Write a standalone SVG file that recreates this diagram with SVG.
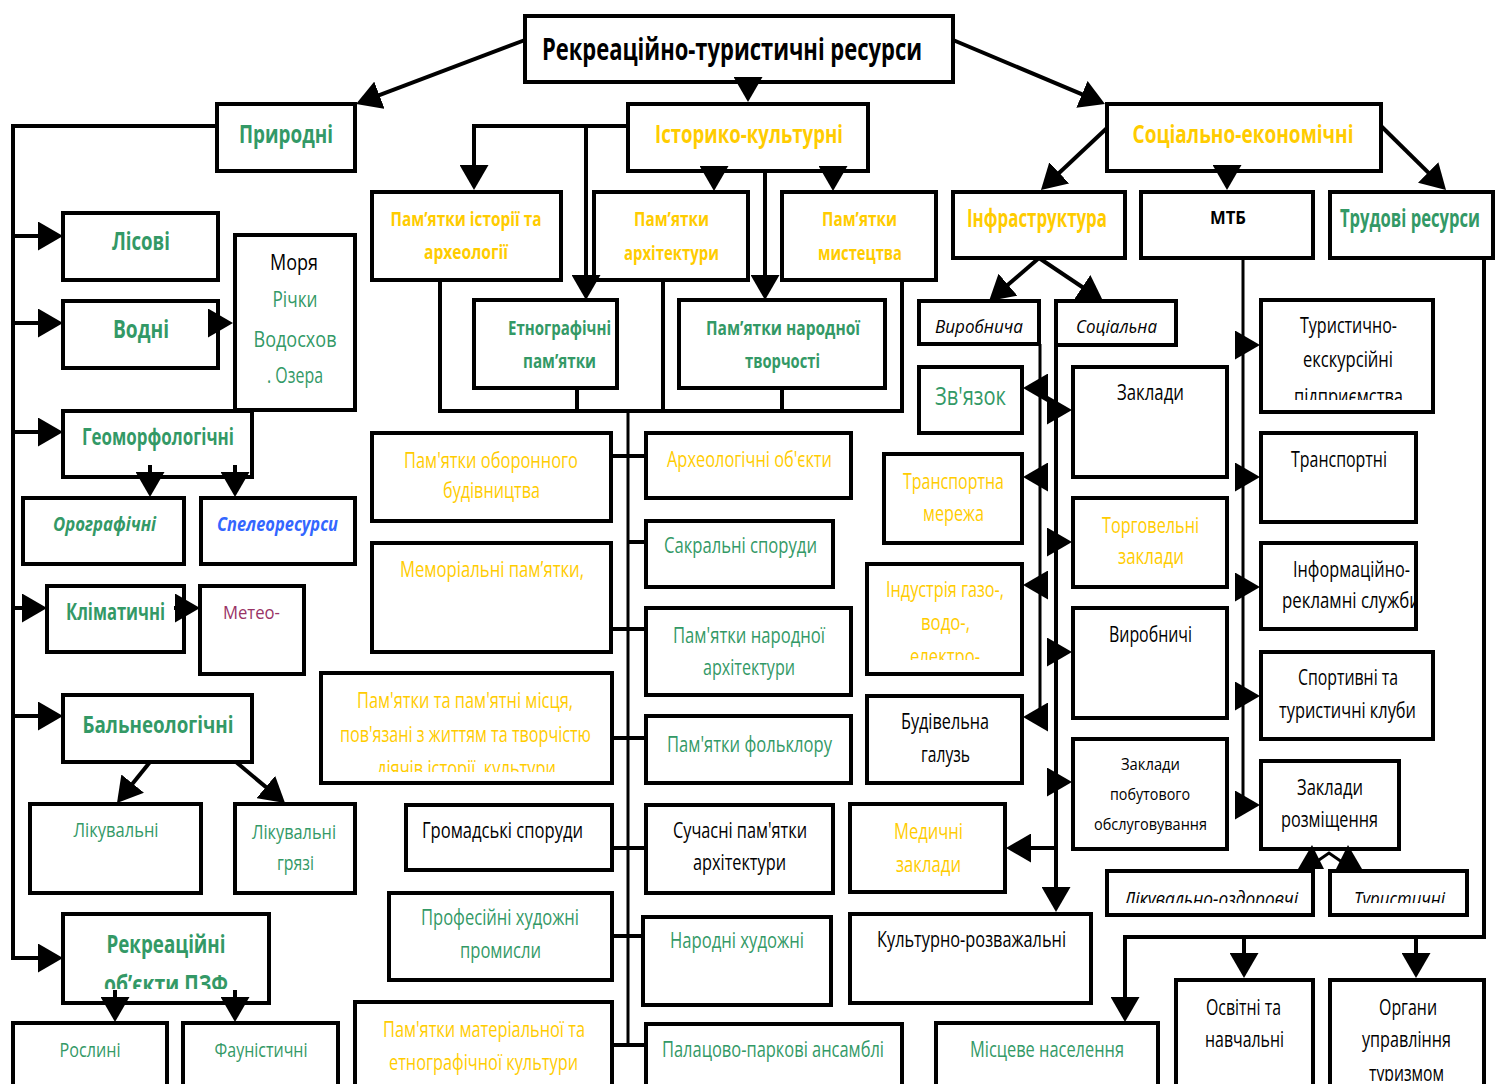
<svg xmlns="http://www.w3.org/2000/svg" width="1495" height="1084" viewBox="0 0 1495 1084">
<style>
.b{fill:#fff;stroke:#000;stroke-width:4}
text{font-family:"Open Sans","Liberation Sans",sans-serif;text-anchor:middle;font-size:21px}
.bd{font-weight:bold}
.it{font-style:italic}
.g{fill:#339966}.y{fill:#FFCC00}.k{fill:#000}.bl{fill:#3366FF}.p{fill:#993366}
.f30{font-size:30px}.f25{font-size:25px}.f24{font-size:24px}.f20{font-size:20px}.f19{font-size:19px}.f17{font-size:17px}
.c{fill:none;stroke:#000;stroke-width:4;marker-end:url(#ah)}
.l{fill:none;stroke:#000;stroke-width:4}
.l3{fill:none;stroke:#000;stroke-width:3}
</style>
<defs>
<marker id="ah" viewBox="0 0 25 29" markerWidth="25" markerHeight="29" refX="17" refY="14.5" orient="auto" markerUnits="userSpaceOnUse"><path d="M0,0 L25,14.5 L0,29 z" fill="#000"/></marker>
<clipPath id="cPZF"><rect x="60" y="900" width="220" height="89"/></clipPath>
<clipPath id="cDiy"><rect x="320" y="660" width="300" height="112"/></clipPath>
<clipPath id="cEl"><rect x="860" y="560" width="170" height="100"/></clipPath>
<clipPath id="cPid"><rect x="1255" y="290" width="190" height="110"/></clipPath>
<clipPath id="cRek"><rect x="1255" y="540" width="160" height="90"/></clipPath>
<clipPath id="cLik"><rect x="1100" y="860" width="380" height="43"/></clipPath>
<clipPath id="cTur"><rect x="1320" y="975" width="175" height="106"/></clipPath>
</defs>
<rect width="1495" height="1084" fill="#fff"/>

<g id="n-title"><rect class="b" x="525" y="16" width="428" height="66"/><text class="bd k f30" x="732" y="60" textLength="380" lengthAdjust="spacingAndGlyphs">Рекреаційно-туристичні ресурси</text></g>
<g id="n-pryrodni"><rect class="b" x="217" y="104" width="138" height="67"/><text class="bd g f25" x="286" y="143" textLength="94" lengthAdjust="spacingAndGlyphs">Природні</text></g>
<g id="n-istoryko"><rect class="b" x="628" y="104" width="240" height="67"/><text class="bd y f25" x="749" y="143" textLength="188" lengthAdjust="spacingAndGlyphs">Історико-культурні</text></g>
<g id="n-sotsekon"><rect class="b" x="1107" y="104" width="274" height="67"/><text class="bd y f25" x="1243" y="143" textLength="221" lengthAdjust="spacingAndGlyphs">Соціально-економічні</text></g>

<g id="n-lisovi"><rect class="b" x="63" y="213" width="155" height="67"/><text class="bd g f25" x="141" y="250" textLength="58" lengthAdjust="spacingAndGlyphs">Лісові</text></g>
<g id="n-vodni"><rect class="b" x="63" y="301" width="155" height="67"/><text class="bd g f25" x="141" y="338" textLength="56" lengthAdjust="spacingAndGlyphs">Водні</text></g>
<g id="n-morya"><rect class="b" x="235" y="235" width="120" height="175"/>
<text class="k" x="294" y="270" textLength="48" lengthAdjust="spacingAndGlyphs">Моря</text>
<text class="g" x="295" y="307" textLength="45" lengthAdjust="spacingAndGlyphs">Річки</text>
<text class="g" x="295" y="347" textLength="83" lengthAdjust="spacingAndGlyphs">Водосхов</text>
<text class="g" x="295" y="383" textLength="56" lengthAdjust="spacingAndGlyphs">. Озера</text></g>
<g id="n-geomorf"><rect class="b" x="63" y="411" width="189" height="66"/><text class="bd g f24" x="158" y="445" textLength="152" lengthAdjust="spacingAndGlyphs">Геоморфологічні</text></g>
<g id="n-orograf"><rect class="b" x="23" y="498" width="161" height="66"/><text class="bd it g f20" x="104.5" y="531" textLength="103" lengthAdjust="spacingAndGlyphs">Орографічні</text></g>
<g id="n-speleo"><rect class="b" x="201" y="498" width="154" height="66"/><text class="bd it bl f20" x="277.5" y="531" textLength="121" lengthAdjust="spacingAndGlyphs">Спелеоресурси</text></g>
<g id="n-klimat"><rect class="b" x="47" y="586" width="137" height="66"/><text class="bd g f24" x="115.5" y="620" textLength="99" lengthAdjust="spacingAndGlyphs">Кліматичні</text></g>
<g id="n-meteo"><rect class="b" x="200" y="586" width="104" height="88"/><text class="p f19" x="251.5" y="619" textLength="57" lengthAdjust="spacingAndGlyphs">Метео-</text></g>
<g id="n-balneo"><rect class="b" x="63" y="695" width="189" height="67"/><text class="bd g f24" x="158" y="733" textLength="151" lengthAdjust="spacingAndGlyphs">Бальнеологічні</text></g>
<g id="n-likuv"><rect class="b" x="30" y="804" width="171" height="89"/><text class="g f20" x="116" y="837" textLength="85" lengthAdjust="spacingAndGlyphs">Лікувальні</text></g>
<g id="n-gryazi"><rect class="b" x="235" y="804" width="120" height="89"/><text class="g f20" x="294" y="839" textLength="84" lengthAdjust="spacingAndGlyphs">Лікувальні</text><text class="g f20" x="295.5" y="870" textLength="37" lengthAdjust="spacingAndGlyphs">грязі</text></g>
<g id="n-pzf"><rect class="b" x="63" y="914" width="206" height="89"/><text class="bd g f25" x="166" y="953" textLength="119" lengthAdjust="spacingAndGlyphs">Рекреаційні</text><text class="bd g f25" x="166" y="993" textLength="124" lengthAdjust="spacingAndGlyphs" clip-path="url(#cPZF)">об’єкти  ПЗФ</text></g>
<g id="n-roslyni"><rect class="b" x="13" y="1023" width="154" height="70"/><text class="g f20" x="90" y="1057" textLength="61" lengthAdjust="spacingAndGlyphs">Рослині</text></g>
<g id="n-faun"><rect class="b" x="183" y="1023" width="155" height="70"/><text class="g f20" x="261" y="1057" textLength="93" lengthAdjust="spacingAndGlyphs">Фауністичні</text></g>

<g id="n-pist"><rect class="b" x="372" y="192" width="189" height="88"/><text class="bd y f20" x="466" y="226" textLength="151" lengthAdjust="spacingAndGlyphs">Пам’ятки історії та</text><text class="bd y f20" x="466" y="259" textLength="84" lengthAdjust="spacingAndGlyphs">археології</text></g>
<g id="n-parch"><rect class="b" x="594" y="192" width="154" height="88"/><text class="bd y f20" x="671.5" y="226" textLength="75" lengthAdjust="spacingAndGlyphs">Пам’ятки</text><text class="bd y f20" x="671.5" y="260" textLength="95" lengthAdjust="spacingAndGlyphs">архітектури</text></g>
<g id="n-pmyst"><rect class="b" x="782" y="192" width="154" height="88"/><text class="bd y f20" x="859.5" y="226" textLength="75" lengthAdjust="spacingAndGlyphs">Пам’ятки</text><text class="bd y f20" x="860" y="260" textLength="84" lengthAdjust="spacingAndGlyphs">мистецтва</text></g>
<g id="n-etno"><rect class="b" x="474" y="300" width="143" height="88"/><text class="bd g f20" x="559.5" y="335" textLength="103" lengthAdjust="spacingAndGlyphs">Етнографічні</text><text class="bd g f20" x="559.5" y="368" textLength="73" lengthAdjust="spacingAndGlyphs">пам’ятки</text></g>
<g id="n-pnt"><rect class="b" x="679" y="300" width="206" height="88"/><text class="bd g f20" x="783" y="335" textLength="154" lengthAdjust="spacingAndGlyphs">Пам’ятки народної</text><text class="bd g f20" x="782.5" y="368" textLength="75" lengthAdjust="spacingAndGlyphs">творчості</text></g>
<g id="n-obor"><rect class="b" x="372" y="433" width="239" height="88"/><text class="y" x="491" y="468" textLength="174" lengthAdjust="spacingAndGlyphs">Пам'ятки оборонного</text><text class="y" x="491.5" y="498" textLength="97" lengthAdjust="spacingAndGlyphs">будівництва</text></g>
<g id="n-arkheol"><rect class="b" x="646" y="433" width="205" height="65"/><text class="y" x="749.5" y="467" textLength="165" lengthAdjust="spacingAndGlyphs">Археологічні об'єкти</text></g>
<g id="n-sakr"><rect class="b" x="646" y="521" width="187" height="66"/><text class="g" x="740.5" y="553" textLength="153" lengthAdjust="spacingAndGlyphs">Сакральні споруди</text></g>
<g id="n-memor"><rect class="b" x="372" y="543" width="239" height="109"/><text class="y" x="492" y="577" textLength="184" lengthAdjust="spacingAndGlyphs">Меморіальні пам’ятки,</text></g>
<g id="n-narch"><rect class="b" x="646" y="608" width="205" height="87"/><text class="g" x="749" y="643" textLength="152" lengthAdjust="spacingAndGlyphs">Пам'ятки народної</text><text class="g" x="749" y="675" textLength="92" lengthAdjust="spacingAndGlyphs">архітектури</text></g>
<g id="n-pmist"><rect class="b" x="321" y="673" width="291" height="110"/><text class="y" x="465" y="708" textLength="216" lengthAdjust="spacingAndGlyphs">Пам'ятки та пам'ятні місця,</text><text class="y" x="465.5" y="742" textLength="251" lengthAdjust="spacingAndGlyphs">пов'язані з життям та творчістю</text><text class="y" x="466.5" y="776" textLength="179" lengthAdjust="spacingAndGlyphs" clip-path="url(#cDiy)">діячів історії, культури</text></g>
<g id="n-folk"><rect class="b" x="646" y="716" width="205" height="67"/><text class="g" x="749.5" y="752" textLength="165" lengthAdjust="spacingAndGlyphs">Пам'ятки фольклору</text></g>
<g id="n-hrom"><rect class="b" x="406" y="805" width="206" height="65"/><text class="k" x="502.5" y="838" textLength="161" lengthAdjust="spacingAndGlyphs">Громадські споруди</text></g>
<g id="n-such"><rect class="b" x="646" y="805" width="187" height="88"/><text class="k" x="740" y="838" textLength="134" lengthAdjust="spacingAndGlyphs">Сучасні пам'ятки</text><text class="k" x="739.5" y="870" textLength="93" lengthAdjust="spacingAndGlyphs">архітектури</text></g>
<g id="n-prof"><rect class="b" x="389" y="893" width="223" height="87"/><text class="g" x="500" y="925" textLength="158" lengthAdjust="spacingAndGlyphs">Професійні художні</text><text class="g" x="500.5" y="958" textLength="81" lengthAdjust="spacingAndGlyphs">промисли</text></g>
<g id="n-narhud"><rect class="b" x="643" y="917" width="188" height="88"/><text class="g" x="737" y="948" textLength="134" lengthAdjust="spacingAndGlyphs">Народні художні</text></g>
<g id="n-mater"><rect class="b" x="355" y="1002" width="257" height="90"/><text class="y" x="484" y="1037" textLength="202" lengthAdjust="spacingAndGlyphs">Пам'ятки матеріальної та</text><text class="y" x="483.5" y="1070" textLength="189" lengthAdjust="spacingAndGlyphs">етнографічної культури</text></g>
<g id="n-palats"><rect class="b" x="646" y="1024" width="256" height="70"/><text class="g" x="773" y="1057" textLength="222" lengthAdjust="spacingAndGlyphs">Палацово-паркові ансамблі</text></g>

<g id="n-infra"><rect class="b" x="953" y="192" width="172" height="66"/><text class="bd y f25" x="1037" y="227" textLength="140" lengthAdjust="spacingAndGlyphs">Інфраструктура</text></g>
<g id="n-mtb"><rect class="b" x="1141" y="192" width="172" height="66"/><text class="bd k f17" x="1228" y="224" textLength="36" lengthAdjust="spacingAndGlyphs">МТБ</text></g>
<g id="n-trud"><rect class="b" x="1330" y="192" width="163" height="66"/><text class="bd g f25" x="1410" y="227" textLength="140" lengthAdjust="spacingAndGlyphs">Трудові ресурси</text></g>
<g id="n-vyrobn"><rect class="b" x="919" y="301" width="120" height="43"/><text class="it k f19" x="979" y="333" textLength="88" lengthAdjust="spacingAndGlyphs">Виробнича</text></g>
<g id="n-sots"><rect class="b" x="1056" y="301" width="120" height="44"/><text class="it k f19" x="1116.5" y="333" textLength="81" lengthAdjust="spacingAndGlyphs">Соціальна</text></g>
<g id="n-zvyaz"><rect class="b" x="919" y="367" width="103" height="66"/><text class="g f25" x="970.5" y="405" textLength="71" lengthAdjust="spacingAndGlyphs">Зв'язок</text></g>
<g id="n-transm"><rect class="b" x="884" y="454" width="138" height="89"/><text class="y" x="953.5" y="489" textLength="101" lengthAdjust="spacingAndGlyphs">Транспортна</text><text class="y" x="953.5" y="521" textLength="61" lengthAdjust="spacingAndGlyphs">мережа</text></g>
<g id="n-indus"><rect class="b" x="867" y="564" width="155" height="110"/><text class="y" x="945" y="597" textLength="118" lengthAdjust="spacingAndGlyphs">Індустрія газо-,</text><text class="y" x="945.5" y="630" textLength="49" lengthAdjust="spacingAndGlyphs">водо-,</text><text class="y" x="945" y="664" textLength="70" lengthAdjust="spacingAndGlyphs" clip-path="url(#cEl)">електро-</text></g>
<g id="n-budiv"><rect class="b" x="867" y="696" width="155" height="87"/><text class="k" x="945" y="729" textLength="88" lengthAdjust="spacingAndGlyphs">Будівельна</text><text class="k" x="945.5" y="762" textLength="49" lengthAdjust="spacingAndGlyphs">галузь</text></g>
<g id="n-medych"><rect class="b" x="850" y="804" width="155" height="88"/><text class="y" x="928.5" y="839" textLength="69" lengthAdjust="spacingAndGlyphs">Медичні</text><text class="y" x="928.5" y="872" textLength="65" lengthAdjust="spacingAndGlyphs">заклади</text></g>
<g id="n-kult"><rect class="b" x="850" y="914" width="241" height="89"/><text class="k" x="971.5" y="947" textLength="189" lengthAdjust="spacingAndGlyphs">Культурно-розважальні</text></g>
<g id="n-zakl"><rect class="b" x="1073" y="367" width="154" height="110"/><text class="k" x="1150.5" y="400" textLength="67" lengthAdjust="spacingAndGlyphs">Заклади</text></g>
<g id="n-torg"><rect class="b" x="1073" y="498" width="154" height="89"/><text class="y" x="1150.5" y="533" textLength="97" lengthAdjust="spacingAndGlyphs">Торговельні</text><text class="y" x="1151" y="564" textLength="66" lengthAdjust="spacingAndGlyphs">заклади</text></g>
<g id="n-vyrobnychi"><rect class="b" x="1073" y="608" width="154" height="110"/><text class="k" x="1150.5" y="642" textLength="83" lengthAdjust="spacingAndGlyphs">Виробничі</text></g>
<g id="n-pobut"><rect class="b" x="1073" y="739" width="154" height="110"/><text class="k f17" x="1150.5" y="770" textLength="59" lengthAdjust="spacingAndGlyphs">Заклади</text><text class="k f17" x="1150" y="800" textLength="80" lengthAdjust="spacingAndGlyphs">побутового</text><text class="k f17" x="1150.5" y="830" textLength="113" lengthAdjust="spacingAndGlyphs">обслуговування</text></g>
<g id="n-turekskurs"><rect class="b" x="1261" y="300" width="172" height="112"/><text class="k" x="1348.5" y="333" textLength="97" lengthAdjust="spacingAndGlyphs">Туристично-</text><text class="k" x="1348" y="367" textLength="90" lengthAdjust="spacingAndGlyphs">екскурсійні</text><text class="k" x="1348.5" y="404" textLength="109" lengthAdjust="spacingAndGlyphs" clip-path="url(#cPid)">підприємства</text></g>
<g id="n-transp"><rect class="b" x="1261" y="433" width="155" height="89"/><text class="k" x="1339" y="467" textLength="96" lengthAdjust="spacingAndGlyphs">Транспортні</text></g>
<g id="n-inform"><rect class="b" x="1261" y="543" width="155" height="86"/><text class="k" x="1351.5" y="577" textLength="117" lengthAdjust="spacingAndGlyphs">Інформаційно-</text><text class="k" x="1351" y="608" textLength="138" lengthAdjust="spacingAndGlyphs" clip-path="url(#cRek)">рекламні служби</text></g>
<g id="n-sport"><rect class="b" x="1261" y="652" width="172" height="87"/><text class="k" x="1348" y="685" textLength="100" lengthAdjust="spacingAndGlyphs">Спортивні та</text><text class="k" x="1347.5" y="718" textLength="137" lengthAdjust="spacingAndGlyphs">туристичні клуби</text></g>
<g id="n-rozm"><rect class="b" x="1261" y="761" width="138" height="88"/><text class="k" x="1330" y="795" textLength="66" lengthAdjust="spacingAndGlyphs">Заклади</text><text class="k" x="1329.5" y="827" textLength="97" lengthAdjust="spacingAndGlyphs">розміщення</text></g>
<g id="n-likozd"><rect class="b" x="1107" y="871" width="206" height="44"/><text class="it k f20" x="1211" y="906" textLength="174" lengthAdjust="spacingAndGlyphs" clip-path="url(#cLik)">Лікувально-оздоровчі</text></g>
<g id="n-turyst"><rect class="b" x="1330" y="871" width="137" height="44"/><text class="it k f20" x="1399.5" y="906" textLength="91" lengthAdjust="spacingAndGlyphs" clip-path="url(#cLik)">Туристичні</text></g>
<g id="n-mists"><rect class="b" x="936" y="1023" width="222" height="70"/><text class="g" x="1047" y="1057" textLength="154" lengthAdjust="spacingAndGlyphs">Місцеве населення</text></g>
<g id="n-osvit"><rect class="b" x="1176" y="980" width="137" height="110"/><text class="k" x="1243.5" y="1015" textLength="75" lengthAdjust="spacingAndGlyphs">Освітні та</text><text class="k" x="1244.5" y="1047" textLength="79" lengthAdjust="spacingAndGlyphs">навчальні</text></g>
<g id="n-orhany"><rect class="b" x="1330" y="980" width="154" height="110"/><text class="k" x="1408" y="1015" textLength="58" lengthAdjust="spacingAndGlyphs">Органи</text><text class="k" x="1406.5" y="1047" textLength="89" lengthAdjust="spacingAndGlyphs">управління</text><text class="k" x="1406.5" y="1081" textLength="75" lengthAdjust="spacingAndGlyphs" clip-path="url(#cTur)">туризмом</text></g>

<g id="connectors">
<path class="c" d="M525,40 L363.5,101.2"/>
<path class="c" d="M748,82 V94"/>
<path class="c" d="M953,40 L1097.6,100.9"/>
<path class="c" d="M217,126 H13 V958 H55"/>
<path class="c" d="M13,236 H55"/>
<path class="c" d="M13,323 H55"/>
<path class="c" d="M13,432 H55"/>
<path class="c" d="M13,608 H39"/>
<path class="c" d="M13,716 H55"/>
<path class="c" d="M208,323 H225"/>
<path class="c" d="M174,608 H192"/>
<path class="c" d="M150,465 V489"/>
<path class="c" d="M235,465 V489"/>
<path class="c" d="M150,762 L122,796.8"/>
<path class="c" d="M236,762 L278.9,797.9"/>
<path class="c" d="M115,990 V1014"/>
<path class="c" d="M235,990 V1014"/>
<path class="c" d="M628,126 H474 V182"/>
<path class="c" d="M586,126 V292"/>
<path class="c" d="M714,171 V183"/>
<path class="c" d="M833,171 V183"/>
<path class="c" d="M765,171 V292"/>
<path class="l" d="M440,280 V411 H902 V280"/>
<path class="l" d="M663,280 V411 M577,388 V411 M782,388 V411"/>
<path class="l3" d="M628,411 V1045"/>
<path class="l" d="M611,456 H646 M628,542 H646 M611,629 H646 M612,738 H646 M612,848 H646 M612,936 H644 M612,1045 H646"/>
<path class="c" d="M1107,128 L1046.8,184.5"/>
<path class="c" d="M1227,171 V182"/>
<path class="c" d="M1381,126 L1440.3,184.4"/>
<path class="c" d="M1039,258 L995.1,295.8"/>
<path class="c" d="M1039,258 L1096.4,296.5"/>
<path class="l3" d="M1040,344 V717"/>
<path class="c" d="M1046,388 H1031"/>
<path class="c" d="M1046,477 H1031"/>
<path class="c" d="M1046,585 H1031"/>
<path class="c" d="M1046,717 H1031"/>
<path class="c" d="M1056,344 V904"/>
<path class="c" d="M1050,410 H1064"/>
<path class="c" d="M1050,542 H1064"/>
<path class="c" d="M1050,652 H1064"/>
<path class="c" d="M1050,782 H1064"/>
<path class="c" d="M1056,848 H1014"/>
<path class="l3" d="M1243,258 V805"/>
<path class="c" d="M1238,345 H1252"/>
<path class="c" d="M1238,477 H1252"/>
<path class="c" d="M1238,587 H1252"/>
<path class="c" d="M1238,696 H1252"/>
<path class="c" d="M1238,805 H1252"/>
<path class="c" d="M1484,258 V937 H1125 V1014"/>
<path class="c" d="M1244,937 V970"/>
<path class="c" d="M1416,937 V970"/>
<path class="l3" d="M1316,862 L1329,853 L1342,862"/>
<polygon points="1298,869 1324,869 1312,845" fill="#000"/>
<polygon points="1336,869 1362,869 1348,845" fill="#000"/>
</g>
</svg>
